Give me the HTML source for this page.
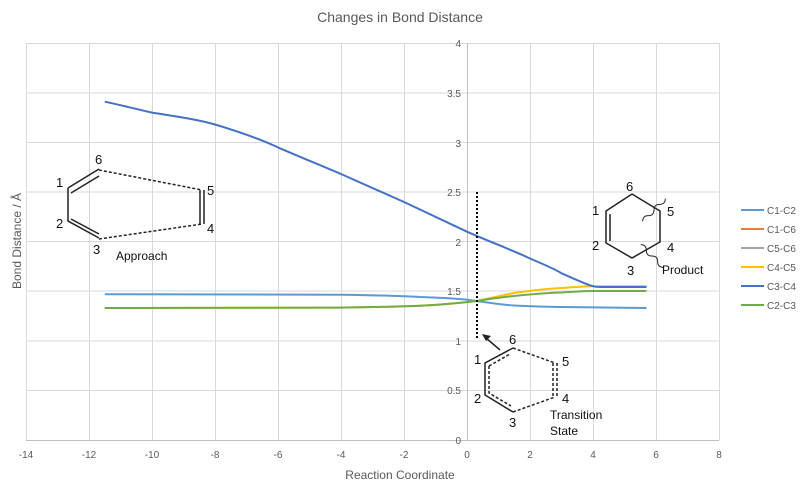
<!DOCTYPE html>
<html><head><meta charset="utf-8"><style>body{margin:0;background:#fff}svg{display:block;font-family:"Liberation Sans",sans-serif}</style></head><body>
<svg width="800" height="486" viewBox="0 0 800 486">
<rect width="800" height="486" fill="#fff"/>
<text x="400" y="22" text-anchor="middle" font-size="14" fill="#595959">Changes in Bond Distance</text>
<g stroke="#d9d9d9" stroke-width="1">
<line x1="26" y1="43.5" x2="719" y2="43.5"/><line x1="26" y1="93" x2="719" y2="93"/><line x1="26" y1="142.5" x2="719" y2="142.5"/><line x1="26" y1="192" x2="719" y2="192"/><line x1="26" y1="241.5" x2="719" y2="241.5"/><line x1="26" y1="291" x2="719" y2="291"/><line x1="26" y1="341" x2="719" y2="341"/><line x1="26" y1="390.5" x2="719" y2="390.5"/>
<line x1="26.5" y1="43" x2="26.5" y2="440"/><line x1="89.5" y1="43" x2="89.5" y2="440"/><line x1="152.5" y1="43" x2="152.5" y2="440"/><line x1="215.5" y1="43" x2="215.5" y2="440"/><line x1="278.5" y1="43" x2="278.5" y2="440"/><line x1="341.5" y1="43" x2="341.5" y2="440"/><line x1="404.5" y1="43" x2="404.5" y2="440"/><line x1="530.5" y1="43" x2="530.5" y2="440"/><line x1="593.5" y1="43" x2="593.5" y2="440"/><line x1="656.5" y1="43" x2="656.5" y2="440"/><line x1="719.5" y1="43" x2="719.5" y2="440"/>
</g>
<line x1="26" y1="440.5" x2="719" y2="440.5" stroke="#bfbfbf"/>
<line x1="467.5" y1="43" x2="467.5" y2="440" stroke="#bfbfbf"/>
<g font-size="10" fill="#595959" text-anchor="end">
<text x="461" y="444">0</text><text x="461" y="394">0.5</text><text x="461" y="345">1</text><text x="461" y="295">1.5</text><text x="461" y="246">2</text><text x="461" y="196">2.5</text><text x="461" y="147">3</text><text x="461" y="97">3.5</text><text x="461" y="47">4</text>
</g>
<g font-size="10" fill="#595959" text-anchor="middle">
<text x="26" y="458">-14</text><text x="89" y="458">-12</text><text x="152" y="458">-10</text><text x="215" y="458">-8</text><text x="278" y="458">-6</text><text x="341" y="458">-4</text><text x="404" y="458">-2</text><text x="467" y="458">0</text><text x="530" y="458">2</text><text x="593" y="458">4</text><text x="656" y="458">6</text><text x="719" y="458">8</text>
</g>
<text x="400" y="479" text-anchor="middle" font-size="12" fill="#595959">Reaction Coordinate</text>
<text transform="translate(21,241) rotate(-90)" text-anchor="middle" font-size="12" fill="#595959">Bond Distance / Å</text>
<g fill="none" stroke-width="2" stroke-linejoin="round">
<path d="M104.8,294.2 L341,294.7 C380,295.3 404,296 420,297 C445,298 460,298.5 476.5,301 C495,303.5 505,305 514,305.5 C535,306.5 550,307 561.5,307 L646.5,308" stroke="#5b9bd5"/>
<path d="M104.8,308 L341,307.6 C380,307 404,306.6 420,305.8 C445,304.5 460,303 476.5,301 C495,297 505,295 514,293 C535,290 550,288.5 561.5,288 C575,287 585,286.3 593,286.2 L646.5,286.2" stroke="#ffc000"/>
<path d="M104.8,308 L341,307.6 C380,307 404,306.6 420,305.8 C445,304.5 460,303 476.5,301 C495,298 505,297 514,296 C535,293.8 550,292.8 561.5,292.5 C575,291.5 585,291 593,291 L646.5,291" stroke="#70ad47"/>
<path d="M104.8,101.7 C125,106 140,110 152,112.6 C180,117 200,120 215,124.5 C240,132 260,139 278,147.4 C300,157 320,165 341,174 L404,202 L467,231.7 C490,242 510,249 530,258.5 C545,265 555,269 561.5,273.3 C575,279 585,284 593,286.2 C596,287 598,287 601,287 L646.5,287" stroke="#4472c4"/>
</g>
<line x1="477" y1="192" x2="477" y2="340" stroke="#000" stroke-width="2" stroke-dasharray="2,2"/>
<!-- Approach -->
<g stroke="#222" stroke-width="1.5" fill="none">
<path d="M68,188 L99,169 M71,193 L99,176"/>
<path d="M68,188 L68,221 L99,238 M71,219 L99,234"/>
<path d="M99,170 L202,190 M99,239 L202,224" stroke-dasharray="3,2"/>
<path d="M200,190 L200,224 M204,190 L204,224"/>
</g>
<g font-size="13" fill="#111"><text x="56" y="187">1</text><text x="95" y="164">6</text><text x="207" y="195">5</text><text x="56" y="228">2</text><text x="93" y="254">3</text><text x="207" y="233">4</text></g>
<text x="116" y="260" font-size="12" fill="#111">Approach</text>
<!-- Product -->
<g stroke="#222" stroke-width="1.5" fill="none">
<path d="M632,194 L606,211 L606,243 L632,258 L660,242 L660,211 L632,194 M610,214 L610,241"/>
<path d="M654,194 q4,4 0,8 q-4,4 0,8 q4,4 0,8 q-4,4 0,8" stroke-width="1" transform="rotate(45 654 210)"/>
<path d="M652,240 q4,4 0,8 q-4,4 0,8 q4,4 0,8 q-4,4 0,8" stroke-width="1" transform="rotate(-45 652 256)"/>
</g>
<g font-size="13" fill="#111"><text x="626" y="191">6</text><text x="592" y="215">1</text><text x="667" y="216">5</text><text x="592" y="250">2</text><text x="667" y="252">4</text><text x="627" y="275">3</text></g>
<text x="662" y="274" font-size="12" fill="#111">Product</text>
<!-- TS -->
<g stroke="#222" stroke-width="1.5" fill="none">
<path d="M513,348 L485,363 L485,395 L513,412"/>
<path d="M489,366 L489,393 L511,406 M489,366 L510,354" stroke-dasharray="3,2"/>
<path d="M513,412 L555,397 M513,348 L555,363" stroke-dasharray="3,2"/>
<path d="M553,363 L553,397 M557,363 L557,397" stroke-dasharray="3,2"/>
<path d="M500,350 L486,338"/>
</g>
<path d="M482,334 L491,336 L486,341 Z" fill="#222"/>
<g font-size="13" fill="#111"><text x="509" y="344">6</text><text x="474" y="364">1</text><text x="562" y="366">5</text><text x="474" y="403">2</text><text x="562" y="403">4</text><text x="509" y="427">3</text></g>
<text x="550" y="419" font-size="12" fill="#111">Transition</text>
<text x="550" y="435" font-size="12" fill="#111">State</text>
<!-- legend -->
<g stroke-width="2">
<line x1="741" y1="210" x2="764" y2="210" stroke="#5b9bd5"/>
<line x1="741" y1="229" x2="764" y2="229" stroke="#ed7d31"/>
<line x1="741" y1="248" x2="764" y2="248" stroke="#a5a5a5"/>
<line x1="741" y1="267" x2="764" y2="267" stroke="#ffc000"/>
<line x1="741" y1="286" x2="764" y2="286" stroke="#4472c4"/>
<line x1="741" y1="305" x2="764" y2="305" stroke="#70ad47"/>
</g>
<g font-size="10" fill="#595959">
<text x="767" y="214">C1-C2</text><text x="767" y="233">C1-C6</text><text x="767" y="252">C5-C6</text><text x="767" y="271">C4-C5</text><text x="767" y="290">C3-C4</text><text x="767" y="309">C2-C3</text>
</g>
</svg>
</body></html>
